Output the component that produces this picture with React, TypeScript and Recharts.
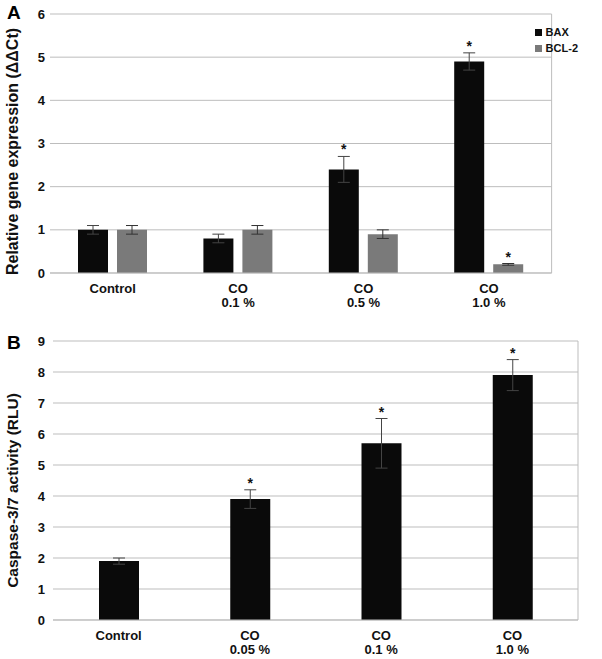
import { BarChart, Bar, XAxis, YAxis, CartesianGrid, ErrorBar, LabelList, Legend } from "recharts";

const FONT = "'Liberation Sans', Arial, sans-serif";

// Panel A - relative gene expression
const categoriesA = ["Control", "CO\n0.1 %", "CO\n0.5 %", "CO\n1.0 %"];
const baxValues = [1.0, 0.8, 2.4, 4.9];
const baxErrors = [0.1, 0.1, 0.3, 0.2];
const baxStars = [false, false, true, true];
const bclValues = [1.0, 1.0, 0.9, 0.2];
const bclErrors = [0.1, 0.1, 0.1, 0.02];
const bclStars = [false, false, false, true];
const ticksA = [0, 1, 2, 3, 4, 5, 6];

// Panel B - caspase activity
const categoriesB = ["Control", "CO\n0.05 %", "CO\n0.1 %", "CO\n1.0 %"];
const caspValues = [1.9, 3.9, 5.7, 7.9];
const caspErrors = [0.1, 0.3, 0.8, 0.5];
const caspStars = [false, true, true, true];
const ticksB = [0, 1, 2, 3, 4, 5, 6, 7, 8, 9];

const dataA = categoriesA.map((name, i) => ({
  name,
  bax: baxValues[i],
  baxErr: baxErrors[i],
  bcl: bclValues[i],
  bclErr: bclErrors[i],
}));

const dataB = categoriesB.map((name, i) => ({
  name,
  casp: caspValues[i],
  caspErr: caspErrors[i],
}));

const GRID = "#bdbdbd";

function CategoryTick(props: any) {
  const { x, y, payload } = props;
  const lines = String(payload.value).split("\n");
  return (
    <g>
      {lines.map((l, i) => (
        <text key={i} x={x} y={y + 12 + i * 14} textAnchor="middle" fontFamily={FONT} fontWeight="bold" fontSize={13} fill="#111">
          {l}
        </text>
      ))}
    </g>
  );
}

function makeStar(errs: number[], stars: boolean[]) {
  return (props: any) => {
    const { x, y, width, height, value, index } = props;
    if (!stars[index] || !value) return null;
    const pxPerUnit = height / value;
    const top = y - errs[index] * pxPerUnit;
    return (
      <text x={x + width / 2} y={top - 2} textAnchor="middle" fontFamily={FONT} fontWeight="bold" fontSize={14} fill="#111">
        *
      </text>
    );
  };
}

function axisTitle(text: string, size: number, shift: number) {
  return (props: any) => {
    const vb = props.viewBox;
    const cy = vb.y + vb.height / 2 + shift;
    return (
      <text x={18} y={cy} transform={`rotate(-90, 18, ${cy})`} textAnchor="middle" fontFamily={FONT} fontWeight="bold" fontSize={size} fill="#111">
        {text}
      </text>
    );
  };
}

function LegendA() {
  const items = [
    { label: "BAX", color: "#0a0a0a" },
    { label: "BCL-2", color: "#7a7a7a" },
  ];
  return (
    <div style={{ fontFamily: FONT, fontWeight: "bold", fontSize: 11, color: "#111" }}>
      {items.map((it) => (
        <div key={it.label} style={{ display: "flex", alignItems: "center", height: 16 }}>
          <span style={{ width: 7, height: 7, background: it.color, marginRight: 4, display: "inline-block" }} />
          {it.label}
        </div>
      ))}
    </div>
  );
}

const rightBorder = ({ offset }: any) => [offset.left + offset.width];

export default function App() {
  return (
    <div style={{ position: "absolute", left: 0, top: 0, width: 602, height: 659, background: "#fff" }}>
      <div style={{ position: "absolute", left: 7, top: 2, fontFamily: FONT, fontWeight: "bold", fontSize: 19 }}>A</div>
      <div style={{ position: "absolute", left: 7, top: 332, fontFamily: FONT, fontWeight: "bold", fontSize: 19 }}>B</div>

      <div style={{ position: "absolute", left: 0, top: 0 }}>
        <BarChart width={602} height={330} data={dataA} margin={{ top: 14, right: 7, bottom: 17, left: 0 }} barGap={9}>
          <CartesianGrid stroke={GRID} verticalCoordinatesGenerator={rightBorder} />
          <XAxis dataKey="name" tick={<CategoryTick />} tickLine={false} axisLine={{ stroke: GRID }} height={40} interval={0} />
          <YAxis
            domain={[0, 6]}
            ticks={ticksA}
            width={50}
            axisLine={false}
            tickLine={false}
            tickSize={4}
            tickMargin={1}
            tick={{ fontFamily: FONT, fontWeight: "bold", fontSize: 13, fill: "#111" }}
            label={{ content: axisTitle("Relative gene expression (ΔΔCt)", 16, 8) }}
          />
          <Legend
            verticalAlign="top"
            align="right"
            layout="vertical"
            content={<LegendA />}
            wrapperStyle={{ top: 24, right: 24, left: "auto", width: "auto" }}
          />
          <Bar dataKey="bax" fill="#0a0a0a" barSize={30} isAnimationActive={false}>
            <ErrorBar dataKey="baxErr" direction="y" width={6} stroke="#444" strokeWidth={1} />
            <LabelList dataKey="bax" content={makeStar(baxErrors, baxStars)} />
          </Bar>
          <Bar dataKey="bcl" fill="#7a7a7a" barSize={30} isAnimationActive={false}>
            <ErrorBar dataKey="bclErr" direction="y" width={6} stroke="#333" strokeWidth={1} />
            <LabelList dataKey="bcl" content={makeStar(bclErrors, bclStars)} />
          </Bar>
        </BarChart>
      </div>

      <div style={{ position: "absolute", left: 0, top: 330 }}>
        <BarChart width={602} height={329} data={dataB} margin={{ top: 11, right: 24, bottom: 4, left: 3 }}>
          <CartesianGrid stroke={GRID} verticalCoordinatesGenerator={rightBorder} />
          <XAxis dataKey="name" tick={<CategoryTick />} tickLine={false} axisLine={{ stroke: GRID }} height={35} interval={0} />
          <YAxis
            domain={[0, 9]}
            ticks={ticksB}
            width={50}
            axisLine={false}
            tickLine={false}
            tickSize={4}
            tickMargin={4}
            tick={{ fontFamily: FONT, fontWeight: "bold", fontSize: 13, fill: "#111" }}
            label={{ content: axisTitle("Caspase-3/7 activity (RLU)", 15.5, 10) }}
          />
          <Bar dataKey="casp" fill="#0a0a0a" barSize={40} isAnimationActive={false}>
            <ErrorBar dataKey="caspErr" direction="y" width={6} stroke="#444" strokeWidth={1} />
            <LabelList dataKey="casp" content={makeStar(caspErrors, caspStars)} />
          </Bar>
        </BarChart>
      </div>
    </div>
  );
}
